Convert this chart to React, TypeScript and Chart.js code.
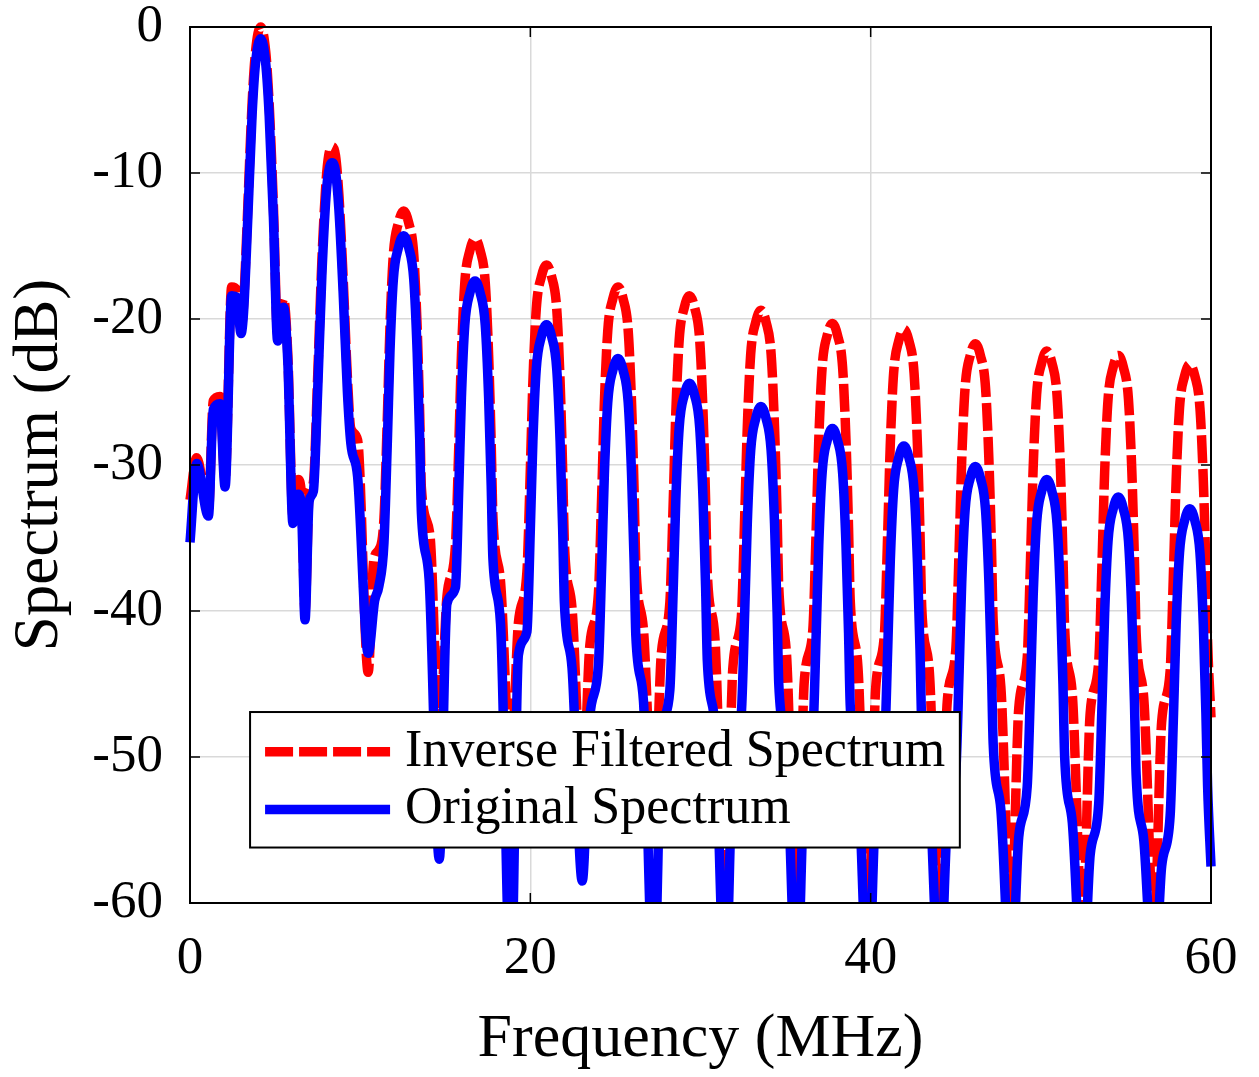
import React, { useEffect, useRef } from 'react';
import { Chart, registerables } from 'chart.js';

Chart.register(...registerables);

const FONT = '"Liberation Serif", "Times New Roman", Times, serif';

// Inverse Filtered Spectrum (red, dashed)
const redFreq = [
  0, 0.39, 1.08, 1.37, 1.76, 2.06, 2.45, 2.75, 3.0, 3.15, 3.4, 3.65, 3.85, 4.15, 4.45, 4.65, 4.9, 5.15, 5.5, 5.75,
  6.05, 6.35, 6.55, 6.76, 7.0, 7.25, 7.5, 7.75, 8.0, 8.15, 8.35, 8.55, 8.75, 9.0, 9.25, 9.45, 9.85, 10.47, 10.8, 11.1,
  11.4, 11.6, 11.75, 11.95, 12.25, 12.55, 12.85, 13.15, 13.35, 13.5, 13.6, 14.1, 14.65,
  15.1, 15.6, 15.8, 15.95, 16.15, 16.45, 16.75, 17.05, 17.35, 17.55, 17.7, 17.8, 18.25, 18.85,
  19.3, 19.8, 20.0, 20.15, 20.35, 20.65, 20.95, 21.25, 21.55, 21.75, 21.9, 22.0, 22.45, 23.05,
  23.5, 24.0, 24.2, 24.35, 24.55, 24.85, 25.15, 25.45, 25.75, 25.95, 26.1, 26.2, 26.65, 27.25,
  27.7, 28.2, 28.4, 28.55, 28.75, 29.05, 29.35, 29.65, 29.95, 30.15, 30.3, 30.4, 30.85, 31.45,
  31.9, 32.4, 32.6, 32.75, 32.95, 33.25, 33.55, 33.85, 34.15, 34.35, 34.5, 34.6, 35.05, 35.65,
  36.1, 36.6, 36.8, 36.95, 37.15, 37.45, 37.75, 38.05, 38.35, 38.55, 38.7, 38.8, 39.25, 39.85,
  40.3, 40.8, 41.0, 41.15, 41.35, 41.65, 41.95, 42.25, 42.55, 42.75, 42.9, 43.0, 43.45, 44.05,
  44.5, 45.0, 45.2, 45.35, 45.55, 45.85, 46.15, 46.45, 46.75, 46.95, 47.1, 47.2, 47.65, 48.25,
  48.7, 49.2, 49.4, 49.55, 49.75, 50.05, 50.35, 50.65, 50.95, 51.15, 51.3, 51.4, 51.85, 52.45,
  52.9, 53.4, 53.6, 53.75, 53.95, 54.25, 54.55, 54.85, 55.15, 55.35, 55.5, 55.6, 56.05, 56.65,
  57.1, 57.6, 57.8, 57.95, 58.15, 58.45, 58.75, 59.05, 59.35, 59.55, 59.7, 59.8, 60,
];
const redDb = [
  -32.4, -29.5, -33.2, -25.6, -25.3, -31.0, -17.8, -18.0, -20.6, -19.0, -12.2, -5.2, -1.7, 0, -1.7, -5.2, -12.2, -21.0, -18.6, -22.5,
  -33.5, -31.0, -32.0, -40.0, -32.0, -31.2, -24.0, -16.0, -10.5, -8.8, -8.2, -8.8, -11.5, -17.2, -24.0, -27.5, -28.3, -44.2, -36.5, -35.8,
  -33.6, -26.6, -20.6, -15.6, -13.4, -12.6, -13.4, -15.6, -20.6, -26.6, -31.6, -34.8, -49,
  -39, -35.5, -28.5, -22.5, -17.5, -15.3, -14.5, -15.3, -17.5, -22.5, -28.5, -33.5, -38, -51,
  -40.8, -37.3, -30.3, -24.3, -19.3, -17.1, -16.3, -17.1, -19.3, -24.3, -30.3, -35.3, -39.8, -53,
  -42.3, -38.8, -31.8, -25.8, -20.8, -18.6, -17.8, -18.6, -20.8, -25.8, -31.8, -36.8, -41.3, -55,
  -42.9, -39.4, -32.4, -26.4, -21.4, -19.2, -18.4, -19.2, -21.4, -26.4, -32.4, -37.4, -41.9, -62,
  -43.9, -40.4, -33.4, -27.4, -22.4, -20.2, -19.4, -20.2, -22.4, -27.4, -33.4, -38.4, -42.9, -62,
  -44.8, -41.3, -34.3, -28.3, -23.3, -21.1, -20.3, -21.1, -23.3, -28.3, -34.3, -39.3, -43.8, -62,
  -45.2, -41.7, -34.7, -28.7, -23.7, -21.5, -20.7, -21.5, -23.7, -28.7, -34.7, -39.7, -44.2, -62,
  -46.2, -42.7, -35.7, -29.7, -24.7, -22.5, -21.7, -22.5, -24.7, -29.7, -35.7, -40.7, -45.2, -62,
  -46.7, -43.2, -36.2, -30.2, -25.2, -23.0, -22.2, -23.0, -25.2, -30.2, -36.2, -41.2, -45.7, -62,
  -47, -43.5, -36.5, -30.5, -25.5, -23.3, -22.5, -23.3, -25.5, -30.5, -36.5, -41.5, -46, -62,
  -47.6, -44.1, -37.1, -31.1, -26.1, -23.9, -23.1, -23.9, -26.1, -31.1, -37.1, -42.1, -47.3,
];

// Original Spectrum (blue, solid)
const blueFreq = [
  0, 0.39, 1.08, 1.37, 1.76, 2.06, 2.45, 2.75, 3.0, 3.15, 3.4, 3.65, 3.85, 4.15, 4.45, 4.65, 4.9, 5.15, 5.5, 5.75,
  6.05, 6.35, 6.55, 6.76, 7.0, 7.25, 7.5, 7.75, 8.0, 8.15, 8.35, 8.55, 8.75, 9.0, 9.25, 9.45, 9.85, 10.47, 10.85, 11.1,
  11.4, 11.6, 11.75, 11.95, 12.25, 12.55, 12.85, 13.15, 13.35, 13.5, 13.6, 14.05, 14.65,
  15.1, 15.6, 15.8, 15.95, 16.15, 16.45, 16.75, 17.05, 17.35, 17.55, 17.7, 17.8, 18.25, 18.85,
  19.3, 19.8, 20.0, 20.15, 20.35, 20.65, 20.95, 21.25, 21.55, 21.75, 21.9, 22.0, 22.45, 23.05,
  23.5, 24.0, 24.2, 24.35, 24.55, 24.85, 25.15, 25.45, 25.75, 25.95, 26.1, 26.2, 26.65, 27.25,
  27.7, 28.2, 28.4, 28.55, 28.75, 29.05, 29.35, 29.65, 29.95, 30.15, 30.3, 30.4, 30.85, 31.45,
  31.9, 32.4, 32.6, 32.75, 32.95, 33.25, 33.55, 33.85, 34.15, 34.35, 34.5, 34.6, 35.05, 35.65,
  36.1, 36.6, 36.8, 36.95, 37.15, 37.45, 37.75, 38.05, 38.35, 38.55, 38.7, 38.8, 39.25, 39.85,
  40.3, 40.8, 41.0, 41.15, 41.35, 41.65, 41.95, 42.25, 42.55, 42.75, 42.9, 43.0, 43.45, 44.05,
  44.5, 45.0, 45.2, 45.35, 45.55, 45.85, 46.15, 46.45, 46.75, 46.95, 47.1, 47.2, 47.65, 48.25,
  48.7, 49.2, 49.4, 49.55, 49.75, 50.05, 50.35, 50.65, 50.95, 51.15, 51.3, 51.4, 51.85, 52.45,
  52.9, 53.4, 53.6, 53.75, 53.95, 54.25, 54.55, 54.85, 55.15, 55.35, 55.5, 55.6, 56.05, 56.65,
  57.1, 57.6, 57.8, 57.95, 58.15, 58.45, 58.75, 59.05, 59.35, 59.55, 59.7, 59.8, 60,
];
const blueDb = [
  -35.3, -29.9, -33.5, -26.2, -25.8, -31.5, -18.4, -18.5, -21.0, -19.5, -13.0, -6.0, -2.5, -0.8, -2.5, -6.0, -13.0, -21.5, -19.2, -23.0,
  -34.0, -32.0, -33.0, -40.6, -32.5, -31.8, -25.0, -17.0, -11.5, -9.9, -9.3, -9.9, -12.5, -18.2, -25.0, -28.5, -30.8, -42.9, -39.3, -38.3,
  -35.3, -28.3, -22.3, -17.3, -15.1, -14.3, -15.1, -17.3, -22.3, -28.3, -33.3, -37.8, -57,
  -39.5, -38.4, -31.4, -25.4, -20.4, -18.2, -17.4, -18.2, -20.4, -25.4, -31.4, -36.4, -40.9, -66,
  -43, -41.4, -34.4, -28.4, -23.4, -21.2, -20.4, -21.2, -23.4, -28.4, -34.4, -39.4, -43.9, -58.5,
  -47.2, -43.7, -36.7, -30.7, -25.7, -23.5, -22.7, -23.5, -25.7, -30.7, -36.7, -41.7, -46.2, -66,
  -48.9, -45.4, -38.4, -32.4, -27.4, -25.2, -24.4, -25.2, -27.4, -32.4, -38.4, -43.4, -47.9, -66,
  -50.5, -47, -40, -34, -29, -26.8, -26, -26.8, -29, -34, -40, -45, -49.5, -66,
  -52, -48.5, -41.5, -35.5, -30.5, -28.3, -27.5, -28.3, -30.5, -35.5, -41.5, -46.5, -51, -66,
  -53.2, -49.7, -42.7, -36.7, -31.7, -29.5, -28.7, -29.5, -31.7, -36.7, -42.7, -47.7, -52.2, -66,
  -54.6, -51.1, -44.1, -38.1, -33.1, -30.9, -30.1, -30.9, -33.1, -38.1, -44.1, -49.1, -53.6, -66,
  -55.5, -52, -45, -39, -34, -31.8, -31, -31.8, -34, -39, -45, -50, -54.5, -66,
  -56.7, -53.2, -46.2, -40.2, -35.2, -33.0, -32.2, -33.0, -35.2, -40.2, -46.2, -51.2, -55.7, -66,
  -57.5, -54, -47, -41, -36, -33.8, -33, -33.8, -36, -41, -47, -52, -57.5,
];

const xTickValues = [0, 20, 40, 60];
const yTickValues = [0, -10, -20, -30, -40, -50, -60];
const seriesLabels = ['Inverse Filtered Spectrum', 'Original Spectrum'];
const xTitle = 'Frequency (MHz)';
const yTitle = 'Spectrum (dB)';
// legend box corners in data units (frequency, dB)
const legendBoxFreq = [3.53, 45.24];
const legendBoxDb = [-46.92, -56.2];

const RED = '#ff0000';
const BLUE = '#0000ff';
const RED_DASH = [28, 6];
const LINE_W = 9.5;

export default function App() {
  const ref = useRef<HTMLCanvasElement>(null);

  useEffect(() => {
    const canvas = ref.current;
    if (!canvas) return;

    const framePlugin = {
      id: 'frameAndLegend',
      afterDatasetsDraw(chart: any) {
        const { ctx, chartArea: a, scales } = chart;
        const xs = scales.x;
        const ys = scales.y;
        ctx.save();
        // inward tick marks
        ctx.strokeStyle = '#000';
        ctx.lineWidth = 1.5;
        ctx.setLineDash([]);
        ctx.beginPath();
        yTickValues.forEach((v) => {
          const p = ys.getPixelForValue(v);
          ctx.moveTo(a.left, p);
          ctx.lineTo(a.left + 10, p);
          ctx.moveTo(a.right, p);
          ctx.lineTo(a.right - 10, p);
        });
        xTickValues.forEach((v) => {
          const p = xs.getPixelForValue(v);
          ctx.moveTo(p, a.bottom);
          ctx.lineTo(p, a.bottom - 10);
          ctx.moveTo(p, a.top);
          ctx.lineTo(p, a.top + 10);
        });
        ctx.stroke();
        // axes box
        ctx.lineWidth = 2;
        ctx.strokeRect(a.left, a.top, a.right - a.left, a.bottom - a.top);

        // legend
        const bx = xs.getPixelForValue(legendBoxFreq[0]);
        const bx2 = xs.getPixelForValue(legendBoxFreq[1]);
        const by = ys.getPixelForValue(legendBoxDb[0]);
        const by2 = ys.getPixelForValue(legendBoxDb[1]);
        const bw = bx2 - bx;
        const bh = by2 - by;
        ctx.fillStyle = '#ffffff';
        ctx.fillRect(bx, by, bw, bh);
        ctx.strokeStyle = '#000';
        ctx.lineWidth = 2;
        ctx.strokeRect(bx, by, bw, bh);

        const rows = [by + bh * 0.294, by + bh * 0.72];
        const colors = [RED, BLUE];
        const dashes = [RED_DASH, []];
        rows.forEach((ry, i) => {
          ctx.beginPath();
          ctx.strokeStyle = colors[i];
          ctx.lineWidth = LINE_W;
          ctx.lineCap = 'butt';
          ctx.setLineDash(dashes[i]);
          ctx.moveTo(bx + 15, ry);
          ctx.lineTo(bx + 140, ry);
          ctx.stroke();
          ctx.setLineDash([]);
          ctx.fillStyle = '#000';
          ctx.font = `52px ${FONT}`;
          ctx.textBaseline = 'middle';
          ctx.textAlign = 'left';
          ctx.fillText(seriesLabels[i], bx + 155, ry);
        });
        ctx.restore();
      },
    };

    const chart = new Chart(canvas, {
      type: 'line',
      data: {
        datasets: [
          {
            label: seriesLabels[0],
            data: redFreq.map((f, i) => ({ x: f, y: redDb[i] })),
            borderColor: RED,
            backgroundColor: RED,
            borderWidth: LINE_W,
            borderDash: RED_DASH,
            borderJoinStyle: 'round',
            pointRadius: 0,
            cubicInterpolationMode: 'monotone',
            fill: false,
            order: 2,
            clip: { left: 5, top: 5, right: 5, bottom: 0 },
          },
          {
            label: seriesLabels[1],
            data: blueFreq.map((f, i) => ({ x: f, y: blueDb[i] })),
            borderColor: BLUE,
            backgroundColor: BLUE,
            borderWidth: LINE_W,
            borderJoinStyle: 'round',
            pointRadius: 0,
            cubicInterpolationMode: 'monotone',
            fill: false,
            order: 1,
            clip: { left: 5, top: 5, right: 5, bottom: 0 },
          },
        ],
      },
      options: {
        responsive: false,
        animation: false,
        events: [],
        layout: { padding: { top: 27, right: 48, left: 0, bottom: 0 } },
        plugins: { legend: { display: false }, tooltip: { enabled: false } },
        scales: {
          x: {
            type: 'linear',
            min: 0,
            max: 60,
            ticks: {
              stepSize: 20,
              font: { family: FONT, size: 53, lineHeight: 1 },
              color: '#000',
              padding: 30,
              maxRotation: 0,
              autoSkip: false,
            },
            grid: { color: '#d9d9d9', lineWidth: 1.5, drawTicks: false },
            border: { display: false },
            title: {
              display: true,
              text: xTitle,
              font: { family: FONT, size: 62, lineHeight: 1.2 },
              color: '#000',
              padding: { top: 0, bottom: 0 },
            },
            afterFit: (s: any) => {
              s.height = 174;
              s.paddingLeft = 0;
              s.paddingRight = 0;
            },
          },
          y: {
            type: 'linear',
            min: -60,
            max: 0,
            ticks: {
              stepSize: 10,
              font: { family: FONT, size: 53, lineHeight: 1 },
              color: '#000',
              padding: 27,
              autoSkip: false,
            },
            grid: { color: '#d9d9d9', lineWidth: 1.5, drawTicks: false },
            border: { display: false },
            title: {
              display: true,
              text: yTitle,
              font: { family: FONT, size: 63, lineHeight: 1.2 },
              color: '#000',
              padding: { top: 3, bottom: 0 },
            },
            afterFit: (s: any) => {
              s.width = 190;
              s.paddingTop = 0;
              s.paddingBottom = 0;
            },
          },
        },
      },
      plugins: [framePlugin],
    } as any);

    return () => {
      chart.destroy();
    };
  }, []);

  return (
    <div style={{ position: 'absolute', left: 0, top: 0, width: 1259, height: 1077, background: '#fff' }}>
      <canvas ref={ref} width={1259} height={1077} style={{ display: 'block', width: 1259, height: 1077 }} />
    </div>
  );
}
